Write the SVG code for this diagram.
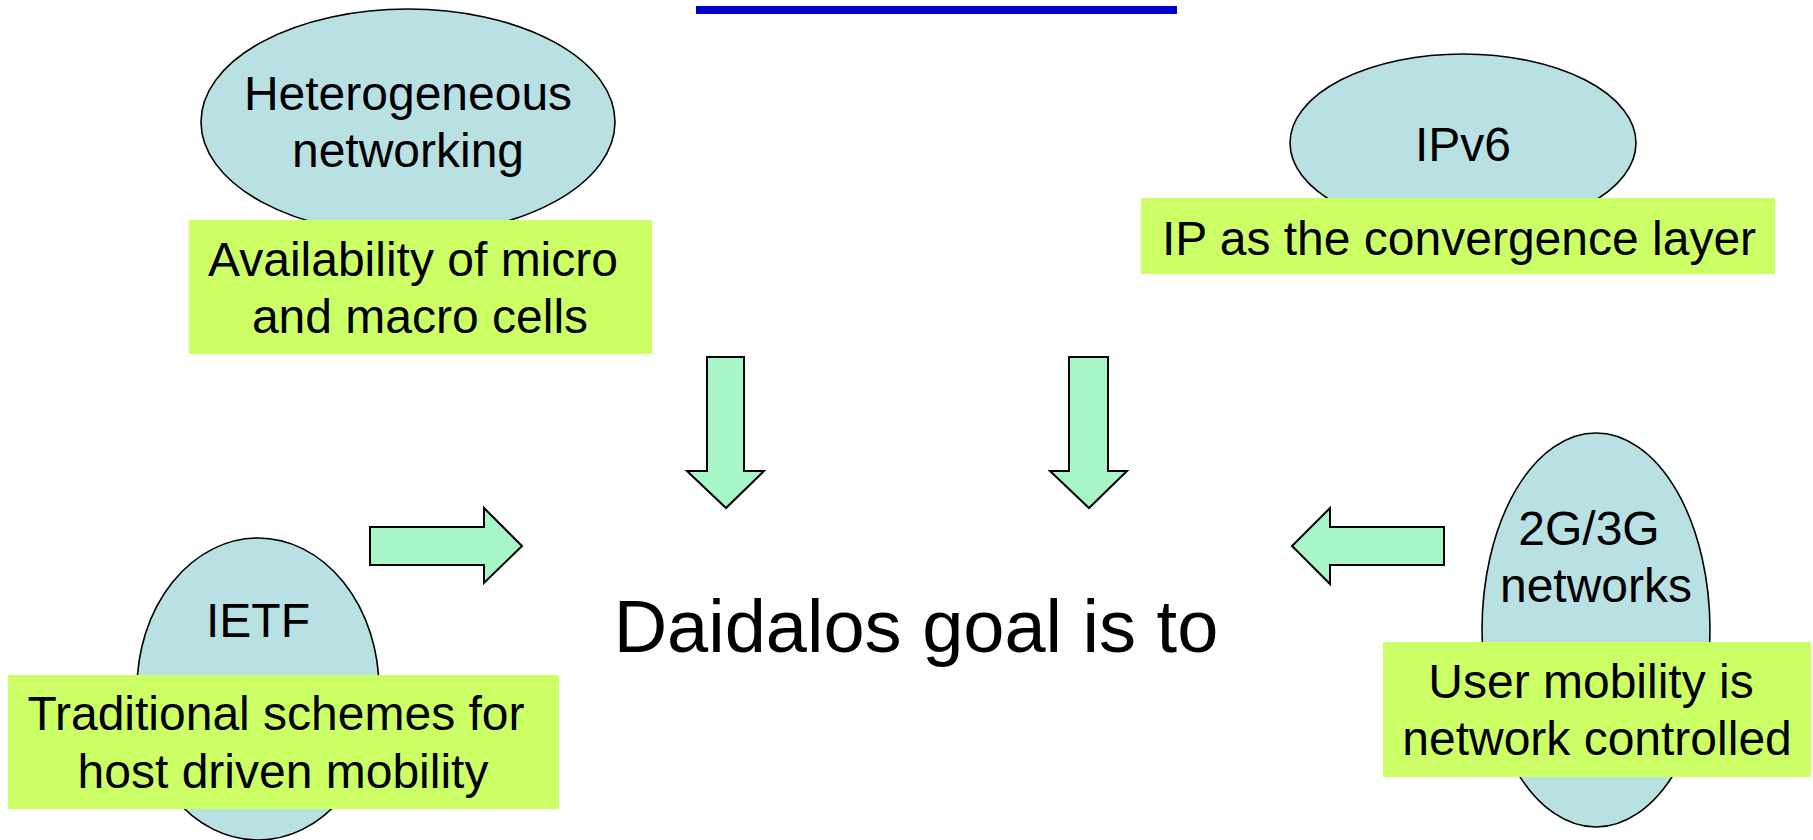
<svg xmlns="http://www.w3.org/2000/svg" width="1813" height="840" viewBox="0 0 1813 840">
<style>
.bg{fill:#ffffff}
.ell{fill:#B9E0E3;stroke:#000;stroke-width:1.6}
.box{fill:#CCFF66;stroke:none}
.arr{fill:#A8F5C8;stroke:#000;stroke-width:2;stroke-linejoin:miter}
.t{font-family:"Liberation Sans",Arial,sans-serif;font-size:48px;fill:#000;text-anchor:middle}
.big{font-family:"Liberation Sans",Arial,sans-serif;font-size:74px;fill:#000;text-anchor:middle}
</style>
<rect class="bg" x="0" y="0" width="1813" height="840"/>
<rect id="title-bar" x="696" y="6" width="481" height="8" fill="#0000CC"/>

<g id="node-heterogeneous">
  <ellipse class="ell" cx="408" cy="122" rx="207" ry="113"/>
  <text class="t" x="408" y="110">Heterogeneous</text>
  <text class="t" x="408" y="167">networking</text>
</g>
<g id="note-availability">
  <rect class="box" x="189" y="220" width="463" height="134"/>
  <text class="t" x="413" y="276">Availability of micro</text>
  <text class="t" x="420" y="333">and macro cells</text>
</g>

<g id="node-ipv6">
  <ellipse class="ell" cx="1463" cy="143" rx="173" ry="89"/>
  <text class="t" x="1463" y="161">IPv6</text>
</g>
<g id="note-ip">
  <rect class="box" x="1141" y="198" width="634" height="76"/>
  <text class="t" x="1459" y="255">IP as the convergence layer</text>
</g>

<g id="node-ietf">
  <ellipse class="ell" cx="258" cy="689" rx="121" ry="151"/>
  <text class="t" x="258" y="637">IETF</text>
</g>
<g id="note-traditional">
  <rect class="box" x="8" y="675" width="551" height="134"/>
  <text class="t" x="276" y="730">Traditional schemes for</text>
  <text class="t" x="283" y="788">host driven mobility</text>
</g>

<g id="node-2g3g">
  <ellipse class="ell" cx="1596" cy="630" rx="114" ry="197"/>
  <text class="t" x="1589" y="545">2G/3G</text>
  <text class="t" x="1596" y="602">networks</text>
</g>
<g id="note-user">
  <rect class="box" x="1383" y="642" width="428" height="135"/>
  <text class="t" x="1591" y="698">User mobility is</text>
  <text class="t" x="1597" y="755">network controlled</text>
</g>

<g id="goal">
  <text class="big" x="916" y="652">Daidalos goal is to</text>
</g>

<g id="connectors">
  <polygon class="arr" points="707,357 744,357 744,471 764,471 726,508 687,471 707,471"/>
  <polygon class="arr" points="1069,357 1108,357 1108,471 1127,471 1089,508 1050,471 1069,471"/>
  <polygon class="arr" points="370,527 484,527 484,508 522,546 484,583 484,565 370,565"/>
  <polygon class="arr" points="1444,527 1330,527 1330,508 1292,546 1330,584 1330,565 1444,565"/>
</g>
</svg>
